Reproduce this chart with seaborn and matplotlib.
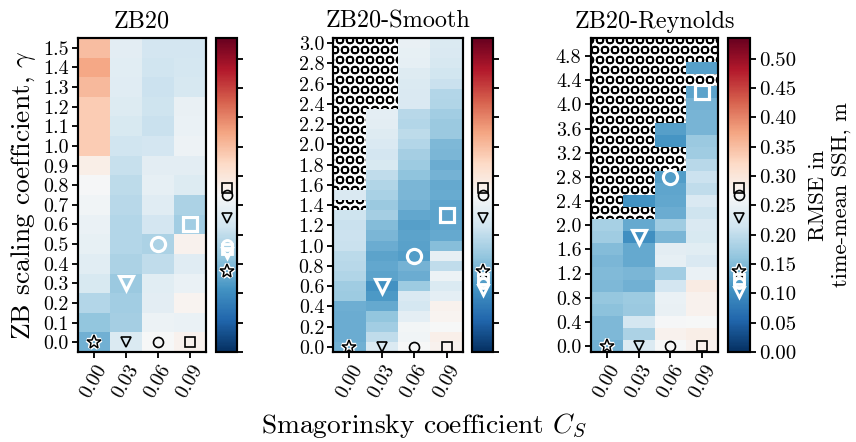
import numpy as np
import pandas as pd
import seaborn as sns
import matplotlib.pyplot as plt
from matplotlib.patches import Rectangle

plt.rcParams['font.family'] = 'cmr10'
plt.rcParams['mathtext.fontset'] = 'cm'
plt.rcParams['axes.formatter.use_mathtext'] = True
plt.rcParams['hatch.linewidth'] = 1.0

nan = np.nan
cs_labels = ['0.00', '0.03', '0.06', '0.09']

# ZB20: gamma 0.0 .. 1.5 step 0.1
zb_gamma = np.round(np.arange(0, 1.51, 0.1), 2)
zb_c000 = [0.138, 0.162, 0.19, 0.225, 0.238, 0.245, 0.25, 0.258, 0.265, 0.285, 0.335, 0.335, 0.335, 0.355, 0.37, 0.35]
zb_c003 = [0.228, 0.177, 0.175, 0.168, 0.182, 0.19, 0.19, 0.193, 0.198, 0.205, 0.215, 0.225, 0.23, 0.235, 0.238, 0.24]
zb_c006 = [0.267, 0.252, 0.24, 0.237, 0.2, 0.183, 0.218, 0.236, 0.243, 0.24, 0.218, 0.207, 0.212, 0.21, 0.215, 0.218]
zb_c009 = [0.279, 0.25, 0.275, 0.25, 0.235, 0.28, 0.175, 0.183, 0.23, 0.24, 0.253, 0.25, 0.247, 0.223, 0.22, 0.218]
zb_best = [None, 0.3, 0.5, 0.6]

# ZB20-Smooth: gamma 0.0 .. 3.0 step 0.1
sm_gamma = np.round(np.arange(0, 3.01, 0.1), 2)
sm_c000 = [0.138, 0.135, 0.135, 0.135, 0.137, 0.17, 0.173, 0.188, 0.193, 0.195, 0.208, 0.21, 0.208, 0.212,
           nan, 0.226] + [nan] * 15
sm_c003 = [0.228, 0.2, 0.175, 0.162, 0.13, 0.114, 0.105, 0.124, 0.128, 0.125, 0.135, 0.145, 0.152, 0.177,
           0.168, 0.18, 0.188, 0.2, 0.225, 0.218, 0.226, 0.233, 0.24, 0.242] + [nan] * 7
sm_c006 = [0.267, 0.258, 0.26, 0.242, 0.22, 0.226, 0.17, 0.135, 0.142, 0.118, 0.122, 0.124, 0.12, 0.128,
           0.142, 0.146, 0.145, 0.16, 0.17, 0.177, 0.19, 0.198, 0.19, 0.194, 0.226, 0.226, 0.228, 0.233,
           0.243, 0.245, 0.247]
sm_c009 = [0.279, 0.283, 0.267, 0.275, 0.28, 0.242, 0.228, 0.252, 0.2, 0.243, 0.153, 0.13, 0.126, 0.124,
           0.127, 0.132, 0.13, 0.141, 0.135, 0.146, 0.148, 0.168, 0.168, 0.175, 0.186, 0.19, 0.208, 0.217,
           0.222, 0.226, 0.228]
sm_best = [None, 0.6, 0.9, 1.3]

# ZB20-Reynolds: gamma 0.0 .. 5.0 step 0.2
re_gamma = np.round(np.arange(0, 5.01, 0.2), 2)
re_c000 = [0.138, 0.147, 0.147, 0.158, 0.165, 0.148, 0.15, 0.146, 0.152, 0.172, 0.178] + [nan] * 15
re_c003 = [0.228, 0.183, 0.22, 0.168, 0.17, 0.14, 0.146, 0.13, 0.13, 0.103, 0.13, nan, 0.108] + [nan] * 13
re_c006 = [0.267, 0.28, 0.265, 0.248, 0.25, 0.218, 0.175, 0.243, 0.24, 0.145, 0.172, 0.135, 0.128, 0.127,
           0.118, nan, nan, 0.11, 0.12] + [nan] * 7
re_c009 = [0.279, 0.285, 0.266, 0.28, 0.28, 0.29, 0.25, 0.226, 0.237, 0.225, 0.227, 0.212, 0.226, 0.2,
           0.21, 0.193, 0.172, 0.168, 0.143, 0.144, 0.142, 0.125, nan, 0.12, nan, nan]
re_best = [None, 1.8, 2.8, 4.2]

vmax = 0.535
markers = ['*', 'v', 'o', 's']

fig = plt.figure(figsize=(856 / 120, 442 / 120), dpi=120)


def draw_panel(ax, cax, cols, gammas, step, tick_labels, title, best, show_cbar_labels):
    df = pd.DataFrame(dict(zip(cs_labels, cols)), index=gammas).iloc[::-1]
    gmax = gammas[-1]

    def ypos(g):
        return (gmax - g) / step + 0.5

    sns.heatmap(df, ax=ax, cbar_ax=cax, cmap='RdBu_r', vmin=0, vmax=vmax,
                xticklabels=cs_labels, yticklabels=False)
    # hatched background shows through the missing runs
    ax.add_patch(Rectangle((0, 0), 1, 1, transform=ax.transAxes, facecolor='white',
                           edgecolor='black', lw=0, hatch='OO', zorder=0))

    ax.set_yticks([ypos(float(t)) for t in tick_labels])
    ax.set_yticklabels(tick_labels, fontsize=12, rotation=0)
    ax.set_xticks(np.arange(len(cs_labels)) + 0.5)
    ax.set_xticklabels(cs_labels, rotation=60, fontsize=12)
    ax.tick_params(length=3.5, width=1.1, pad=2)
    ax.set_title(title, fontsize=14.5)
    for s in ax.spines.values():
        s.set_visible(True)
        s.set_linewidth(1.3)
        s.set_color('black')

    cbar = ax.collections[0].colorbar
    cticks = np.round(np.arange(0, 0.51, 0.05), 2)
    cbar.set_ticks(cticks)
    if show_cbar_labels:
        cbar.set_ticklabels(['%.2f' % t for t in cticks])
    else:
        cbar.set_ticklabels([])
    cbar.ax.tick_params(labelsize=12.5, length=3.5, width=1.1, pad=2)
    cbar.outline.set_linewidth(1.3)
    cbar.outline.set_edgecolor('black')
    cax.set_autoscale_on(False)

    # Smagorinsky-only runs (gamma = 0) and best gamma per C_S
    for j, m in enumerate(markers):
        col = df[cs_labels[j]]
        v0 = col.loc[gammas[0]]
        if m == '*':
            for a, y in [(ax, ypos(0)), (cax, v0)]:
                x = j + 0.5 if a is ax else 0.5
                a.plot(x, y, marker='*', ms=8.5, mfc='none', mec='white', mew=2.6, clip_on=(a is ax))
                a.plot(x, y, marker='*', ms=8.5, mfc='none', mec='black', mew=0.9, clip_on=(a is ax))
        else:
            ax.plot(j + 0.5, ypos(0), marker=m, ms=6, mfc='none', mec='black', mew=1)
            cax.plot(0.5, v0, marker=m, ms=6, mfc='none', mec='black', mew=1, clip_on=False)
        if best[j] is not None:
            vb = col.loc[best[j]]
            ax.plot(j + 0.5, ypos(best[j]), marker=m, ms=8.5, mfc='none', mec='white', mew=1.9)
            cax.plot(0.5, vb, marker=m, ms=6, mfc='none', mec='white', mew=1.7, clip_on=False)
    cax.set_xlim(0, 1)
    cax.set_ylim(0, vmax)
    return cbar


ax_h, ax_b = 314 / 442, 90 / 442
ax1 = fig.add_axes([78 / 856, ax_b, 127.5 / 856, ax_h])
cax1 = fig.add_axes([215.7 / 856, ax_b, 21.6 / 856, ax_h])
ax2 = fig.add_axes([333.3 / 856, ax_b, 129.4 / 856, ax_h])
cax2 = fig.add_axes([472.3 / 856, ax_b, 21.2 / 856, ax_h])
ax3 = fig.add_axes([590.7 / 856, ax_b, 127.6 / 856, ax_h])
cax3 = fig.add_axes([728.3 / 856, ax_b, 21.7 / 856, ax_h])

draw_panel(ax1, cax1, [zb_c000, zb_c003, zb_c006, zb_c009], zb_gamma, 0.1,
           ['%.1f' % g for g in zb_gamma], 'ZB20', zb_best, False)
draw_panel(ax2, cax2, [sm_c000, sm_c003, sm_c006, sm_c009], sm_gamma, 0.1,
           ['%.1f' % g for g in np.round(np.arange(0, 3.01, 0.2), 2)], 'ZB20-Smooth', sm_best, False)
cb3 = draw_panel(ax3, cax3, [re_c000, re_c003, re_c006, re_c009], re_gamma, 0.2,
                 ['%.1f' % g for g in np.round(np.arange(0, 4.81, 0.4), 2)], 'ZB20-Reynolds', re_best, True)

ax1.set_ylabel('ZB scaling coefficient, $\\gamma$', fontsize=16.5, labelpad=3)
cb3.set_label('RMSE in\ntime-mean SSH, m', fontsize=13.5, labelpad=7)
fig.text(0.495, 0.038, 'Smagorinsky coefficient $C_S$', ha='center', va='center', fontsize=16.5)

plt.savefig('out.png', dpi=120)
